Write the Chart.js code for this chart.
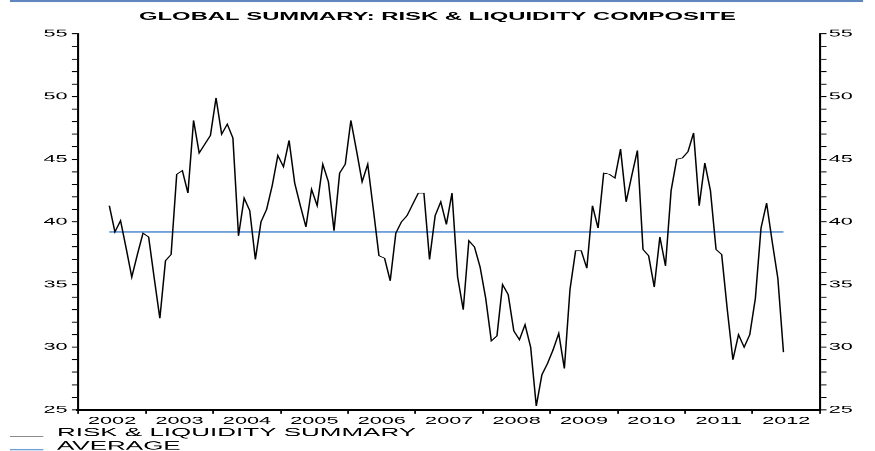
<!DOCTYPE html>
<html>
<head>
<meta charset="utf-8">
<script src="https://cdn.jsdelivr.net/npm/chart.js@4"></script>
<style>
  body { margin: 0; background: #fff; overflow: hidden; }
  /* the reference is a horizontally stretched picture: lay the chart out narrow, then stretch it */
  #wrap { width: 404px; height: 451px; transform: scaleX(2.16584); transform-origin: 0 0; }
</style>
</head>
<body>
<div id="wrap"><canvas id="chart" width="404" height="451"></canvas></div>
<script>
// monthly series, first value is June 2002
const firstMonth = [2002, 6];
const riskLiquidity = [
  41.3, 39.2, 40.1, 37.9, 35.6, 37.4, 39.1, 38.8, 35.5, 32.3,
  36.9, 37.4, 43.8, 44.1, 42.3, 48.1, 45.5, 46.2, 46.9, 49.9,
  47.0, 47.8, 46.7, 38.9, 41.9, 40.9, 37.0, 40.0, 41.0, 42.9,
  45.3, 44.4, 46.5, 43.1, 41.3, 39.6, 42.6, 41.3, 44.6, 43.2,
  39.3, 43.9, 44.6, 48.1, 45.7, 43.2, 44.6, 41.0, 37.3, 37.1,
  35.3, 39.1, 40.0, 40.5, 41.4, 42.3, 42.3, 37.0, 40.5, 41.6,
  39.8, 42.3, 35.6, 33.0, 38.5, 38.0, 36.4, 33.9, 30.5, 30.9,
  35.0, 34.2, 31.3, 30.6, 31.8, 30.0, 25.3, 27.8, 28.7, 29.8,
  31.1, 28.3, 34.6, 37.7, 37.7, 36.3, 41.3, 39.5, 43.9, 43.8,
  43.5, 45.8, 41.6, 43.7, 45.7, 37.8, 37.3, 34.8, 38.8, 36.5,
  42.5, 45.0, 45.1, 45.6, 47.1, 41.3, 44.7, 42.5, 37.8, 37.4,
  33.0, 29.0, 31.0, 30.0, 31.0, 33.9, 39.5, 41.5, 38.4, 35.5,
  29.6
];
const average = 39.2;
const years = [2002, 2003, 2004, 2005, 2006, 2007, 2008, 2009, 2010, 2011, 2012];
const yMin = 25, yMax = 55;

const FONT = '"Liberation Sans", Arial, sans-serif';

// month -> position on a time-in-years axis (middle of the month)
const monthPos = (i) => firstMonth[0] + (firstMonth[1] - 1 + i + 0.5) / 12;
const seriesPoints = riskLiquidity.map((v, i) => ({ x: monthPos(i), y: v }));
const avgPoints = [
  { x: monthPos(0), y: average },
  { x: monthPos(riskLiquidity.length - 1), y: average }
];

const stackedLegend = {
  id: 'stackedLegend',
  afterDraw(chart) {
    const ctx = chart.ctx;
    ctx.save();
    // thin rule across the top of the picture
    ctx.strokeStyle = '#5f86bd';
    ctx.lineWidth = 2;
    ctx.beginPath(); ctx.moveTo(4.6, 1); ctx.lineTo(398.5, 1); ctx.stroke();

    ctx.font = '12px ' + FONT;
    ctx.fillStyle = '#000';
    ctx.textBaseline = 'alphabetic';
    chart.data.datasets.forEach((ds, i) => {
      const y = 436 + i * 13.3;
      ctx.strokeStyle = i === 0 ? '#8a8a8a' : ds.borderColor;
      ctx.lineWidth = 1.2;
      ctx.beginPath(); ctx.moveTo(4.6, y); ctx.lineTo(20, y); ctx.stroke();
      ctx.fillText(ds.label, 26.3, y);
    });
    ctx.restore();
  }
};

const yAxis = (pos, width, pad) => ({
  type: 'linear',
  position: pos,
  min: yMin,
  max: yMax,
  afterFit: (s) => { s.width = width; },
  border: { display: true, color: '#000', width: 0.95 },
  grid: { drawOnChartArea: false, tickLength: 3, tickColor: '#000', tickWidth: 1 },
  ticks: {
    stepSize: 1,
    autoSkip: false,
    padding: pad,
    color: '#000',
    font: { family: FONT, size: 10 },
    callback: (v) => (v % 5 === 0 ? v : '')
  }
});

new Chart(document.getElementById('chart'), {
  type: 'line',
  data: {
    datasets: [
      {
        label: 'RISK & LIQUIDITY SUMMARY',
        data: seriesPoints,
        borderColor: '#000',
        borderWidth: 0.7,
        pointRadius: 0,
        tension: 0,
        yAxisID: 'y'
      },
      {
        label: 'AVERAGE',
        data: avgPoints,
        borderColor: '#6f9fd8',
        borderWidth: 1.7,
        pointRadius: 0,
        yAxisID: 'y'
      }
    ]
  },
  plugins: [stackedLegend],
  options: {
    responsive: false,
    animation: false,
    devicePixelRatio: 875 / 404,
    layout: { padding: { left: 0, right: 0, top: 0, bottom: 25.5 } },
    plugins: {
      legend: { display: false },
      tooltip: { enabled: false },
      title: {
        display: true,
        text: 'GLOBAL SUMMARY: RISK & LIQUIDITY COMPOSITE',
        color: '#000',
        font: { family: FONT, size: 11, weight: 'bold' },
        padding: { top: 10, bottom: 10.7 }
      }
    },
    scales: {
      x: {
        type: 'linear',
        min: years[0],
        max: years[years.length - 1] + 1,
        afterFit: (s) => { s.height = 16; },
        afterBuildTicks: (s) => {
          const t = [];
          years.forEach((yr) => { t.push({ value: yr }); t.push({ value: yr + 0.5 }); });
          t.push({ value: years[years.length - 1] + 1 });
          s.ticks = t;
        },
        border: { display: true, color: '#000', width: 2 },
        grid: {
          drawOnChartArea: false,
          tickLength: 4,
          tickWidth: 0.8,
          tickColor: (c) => (Number.isInteger(c.tick.value) ? '#000' : 'rgba(0,0,0,0)')
        },
        ticks: {
          autoSkip: false,
          maxRotation: 0,
          padding: 1,
          color: '#000',
          font: { family: FONT, size: 10 },
          callback: (v) => (Number.isInteger(v) ? '' : String(Math.floor(v)))
        }
      },
      y: yAxis('left', 36.2, 2),
      y2: yAxis('right', 25.4, 1)
    }
  }
});
</script>
</body>
</html>
